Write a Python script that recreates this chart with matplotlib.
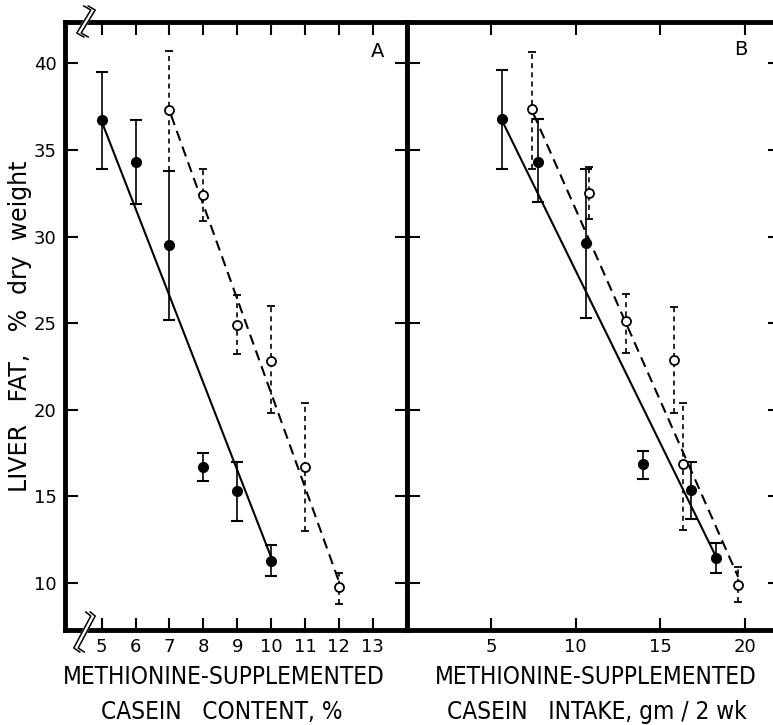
import matplotlib
matplotlib.use('Agg')
import matplotlib.pyplot as plt
from matplotlib.lines import Line2D
import numpy as np

W, H = 773, 725

# Panel A: methionine-supplemented casein content (%)
a_fill_x = [5, 6, 7, 8, 9, 10]
a_fill_y = [36.7, 34.3, 29.5, 16.7, 15.3, 11.3]
a_fill_lo = [33.9, 31.9, 25.2, 15.9, 13.6, 10.4]
a_fill_hi = [39.5, 36.7, 33.8, 17.5, 17.0, 12.2]

a_open_x = [7, 8, 9, 10, 11, 12]
a_open_y = [37.3, 32.4, 24.9, 22.8, 16.7, 9.75]
a_open_lo = [33.8, 30.9, 23.2, 19.8, 13.0, 8.8]
a_open_hi = [40.7, 33.9, 26.6, 26.0, 20.4, 10.6]

# fitted lines (end points)
a_solid_x = [5.05, 10]
a_solid_y = [36.4, 11.5]
a_dash_x = [7.05, 12]
a_dash_y = [37.0, 10.1]

# Panel B: methionine-supplemented casein intake (gm / 2 wk)
b_fill_x = [5.65, 7.75, 10.6, 13.95, 16.8, 18.3]
b_fill_y = [36.8, 34.3, 29.6, 16.85, 15.35, 11.45]
b_fill_lo = [33.9, 32.0, 25.3, 16.0, 13.7, 10.6]
b_fill_hi = [39.6, 36.8, 33.9, 17.6, 17.0, 12.3]

b_open_x = [7.4, 10.8, 13.0, 15.8, 16.35, 19.6]
b_open_y = [37.35, 32.5, 25.1, 22.9, 16.85, 9.9]
b_open_lo = [33.9, 31.0, 23.3, 19.8, 13.05, 8.9]
b_open_hi = [40.65, 34.0, 26.7, 25.95, 20.4, 10.9]

b_solid_x = [5.8, 18.25]
b_solid_y = [36.4, 11.6]
b_dash_x = [7.5, 19.6]
b_dash_y = [37.1, 10.35]

y_ticks = [10, 15, 20, 25, 30, 35, 40]
a_ticks = [5, 6, 7, 8, 9, 10, 11, 12, 13]
b_ticks = [5, 10, 15, 20]

fig = plt.figure(figsize=(W / 100, H / 100), dpi=100)
axA = fig.add_axes([65 / W, 1 - 630 / H, 342 / W, 608 / H])
axB = fig.add_axes([407 / W, 1 - 630 / H, 372.5 / W, 608 / H])


def draw_panel(ax, fx, fy, flo, fhi, ox, oy, olo, ohi, sx, sy, dx, dy):
    ax.plot(sx, sy, color='black', lw=1.5, zorder=2)
    ax.plot(dx, dy, color='black', lw=1.5, ls=(0, (5, 3)), zorder=2)
    ferr = [np.subtract(fy, flo), np.subtract(fhi, fy)]
    ax.errorbar(fx, fy, yerr=ferr, fmt='o', color='black', ms=7,
                capsize=4, elinewidth=1.2, capthick=1.5, zorder=3)
    oerr = [np.subtract(oy, olo), np.subtract(ohi, oy)]
    eb = ax.errorbar(ox, oy, yerr=oerr, fmt='o', mfc='white', mec='black',
                     ecolor='black', ms=6.5, mew=1.3, capsize=3,
                     elinewidth=1.2, capthick=1.5, zorder=4)
    eb[2][0].set_linestyle((0, (3, 2.5)))
    for s in ax.spines.values():
        s.set_linewidth(3.5)
    ax.set_ylim(7.29, 42.38)
    ax.set_yticks(y_ticks)
    ax.tick_params(direction='in', length=9, width=1.5, top=True, right=True,
                   labelsize=13, pad=6)


draw_panel(axA, a_fill_x, a_fill_y, a_fill_lo, a_fill_hi,
           a_open_x, a_open_y, a_open_lo, a_open_hi,
           a_solid_x, a_solid_y, a_dash_x, a_dash_y)
axA.set_xlim(3.92, 14.01)
axA.set_xticks(a_ticks)
axA.set_ylabel('LIVER   FAT,   %  dry  weight', fontsize=17, labelpad=1)

draw_panel(axB, b_fill_x, b_fill_y, b_fill_lo, b_fill_hi,
           b_open_x, b_open_y, b_open_lo, b_open_hi,
           b_solid_x, b_solid_y, b_dash_x, b_dash_y)
axB.set_xlim(0.04, 22.04)
axB.set_xticks(b_ticks)
axB.tick_params(labelleft=False)

axA.text(0.915, 0.951, 'A', transform=axA.transAxes, fontsize=14,
         ha='center', va='center')
axB.text(0.897, 0.954, 'B', transform=axB.transAxes, fontsize=14,
         ha='center', va='center')

# x-axis titles
xl = dict(fontsize=17.5, ha='center', va='center', fontstretch='condensed')
fig.text(224 / W, 1 - 677 / H, 'METHIONINE-SUPPLEMENTED', **xl)
fig.text(222 / W, 1 - 712 / H, 'CASEIN   CONTENT, %', **xl)
fig.text(596 / W, 1 - 677 / H, 'METHIONINE-SUPPLEMENTED', **xl)
fig.text(597 / W, 1 - 712 / H, 'CASEIN   INTAKE, gm / 2 wk', **xl)


# axis-break marks at the top-left and bottom-left corners
def break_mark(pts):
    xs = [p[0] / W for p in pts]
    ys = [1 - p[1] / H for p in pts]
    fig.add_artist(Line2D(xs, ys, color='white', lw=4, transform=fig.transFigure,
                          solid_capstyle='butt'))
    for off in (-2.2, 2.2):
        fig.add_artist(Line2D([x + off / W for x in xs], ys, color='black', lw=1.1,
                              transform=fig.transFigure))


break_mark([(86, 6), (93, 10), (79, 33), (86, 37)])
break_mark([(88, 612), (93, 616), (76, 648), (82, 652)])

fig.savefig('out.png', dpi=100)
